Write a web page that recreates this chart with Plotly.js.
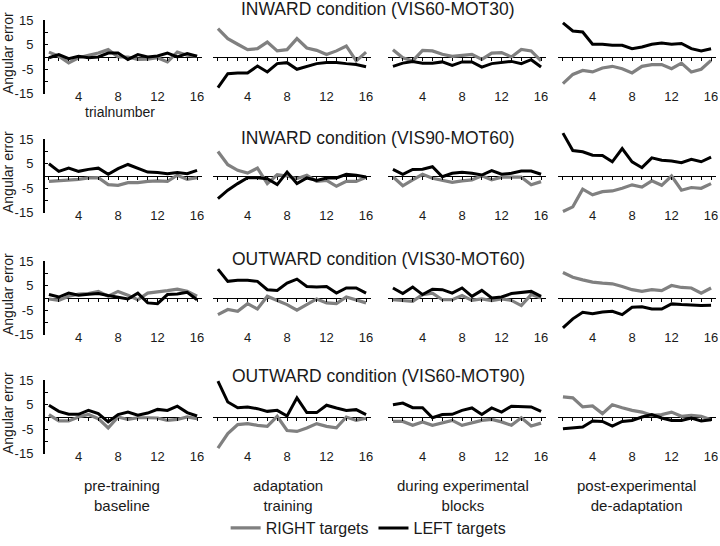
<!DOCTYPE html>
<html><head><meta charset="utf-8">
<script src="https://cdn.plot.ly/plotly-3.0.1.min.js"></script>
<style>html,body{margin:0;padding:0;background:#fff}#chart{width:720px;height:546px}</style>
</head><body><div id="chart"></div>
<script>
const trials = [1,2,3,4,5,6,7,8,9,10,11,12,13,14,15,16];
const phases = ["pre-training<br>baseline","adaptation<br>training","during experimental<br>blocks","post-experimental<br>de-adaptation"];
const conditions = ["INWARD condition (VIS60-MOT30)","INWARD condition (VIS90-MOT60)","OUTWARD condition (VIS30-MOT60)","OUTWARD condition (VIS60-MOT90)"];
const seriesNames = ["RIGHT targets","LEFT targets"];
const yTickVals = [15,10,5,0,-5,-10,-15];
const yTickText = ["15","","5","","-5","","-15"];
const xTicks = [4,8,12,16];

// each: [baseline, adaptation, during, post]
const inward6030_right = [
  [2,0.3,-2.4,-0.3,0.7,1.6,3,0,0,-1,-0.9,-0.3,-2,2,0.7,0.3],
  [11.6,7.5,5.2,3,3.4,6.1,2.5,3,7.5,3.7,2.7,1,2.5,4.5,-1.6,2],
  [3,-0.3,-1.6,2.7,2.5,1.1,0.3,0.7,1.1,-1,1.6,1.8,0,3.1,2.5,-1.6],
  [-10.9,-7.1,-5.5,-6.1,-4.5,-3.8,-4.8,-6.5,-3.8,-3.1,-3.1,-4.8,-2.5,-6.1,-5,-1.4]
];
const inward6030_left = [
  [-0.3,1,-0.7,0.3,-0.3,0,1.6,1.6,-1,1,0,0.4,1.6,0,1.4,0.3],
  [-12.5,-6.8,-6.5,-6.5,-3.7,-6.1,-2.7,-2.3,-5,-3.7,-2.7,-2.2,-2.2,-2.7,-3.1,-4],
  [-3.8,-2.5,-1.8,-2.5,-2.5,-2,-3.4,-2,-2,-4.1,-2.7,-2.3,-1.8,-2.7,-1.1,-4.1],
  [13.9,10.6,10.2,5.2,5.2,4.8,4.8,3.4,4.1,5.2,5.7,5.2,5.5,3.4,2.5,3.4]
];
const inward9060_right = [
  [-2.2,-2,-1.8,-1.4,-0.8,-0.7,-3.5,-3.8,-2.7,-2.7,-2.2,-2,-2.2,0.3,-1.4,-0.7],
  [10,4.6,2.3,1.2,3.2,-3.1,0.5,0,-1.1,0.3,-2.2,-1.8,-4.2,-2.2,-2.2,-0.5],
  [-0.3,-4,-1.6,0.7,-0.9,-1.6,-2.6,-2,-1.6,0.1,-1.6,-0.5,-0.5,-0.5,-3.6,-2.3],
  [-14.5,-12.6,-5.4,-7.7,-6.4,-6.1,-5,-3.6,-4.5,-2,-3.8,0,-5.8,-4.7,-5,-3.1]
];
const inward9060_left = [
  [5,1.9,3.2,1.9,2.7,3.2,0.7,3,4.7,3,1.6,1.4,0.9,1.4,0.9,2.3],
  [-9.2,-5.8,-3.1,-0.7,-0.7,-1.1,-3.5,1.6,-3.1,-0.8,-1.8,-0.8,-0.8,0.7,0.3,-0.4],
  [2.7,0.7,2.7,2.8,3.8,-0.3,1.1,1.5,1.1,0.4,2.2,0.7,1.1,2,2,0.7],
  [17.5,10.4,9.9,8.5,8.4,5.8,11.2,5.8,3.4,7.4,6.4,6.1,5.4,6.8,5.8,7.7]
];
const outward3060_right = [
  [-0.4,-1,0.7,1.6,1.8,2.7,0.7,2.7,1.1,-0.7,2,2.4,3,3.6,2.7,0.7],
  [-6.8,-4.7,-5.4,-2.3,-4.5,0.7,-1,-2.7,-5,-2.7,-0.4,-2,-2.3,0.4,-0.7,-2],
  [-0.7,-1,-1.4,1.4,2,-0.7,-0.7,1,-1,-0.4,-1.1,-0.4,-1,-3.1,1.4,0],
  [10.4,8.5,7.4,6.5,6.1,5.8,4.7,3.4,2.7,3.4,3,5.1,4.3,4.1,2,4.1]
];
const outward3060_left = [
  [1.4,0.4,2,1.1,1.5,1.8,1,0.4,-0.4,2,-2,-2.3,1.4,1.6,2.3,-0.7],
  [11.8,6.8,7.2,7.2,6.8,3.4,3.1,6.1,7.7,4.7,4.5,4.7,2,4.1,4.1,2],
  [4.1,1.8,4.5,1.4,3.6,3.4,2,4.1,0.7,3.1,0,0.4,1.8,2.3,2.7,0.7],
  [-12.2,-8.5,-5.8,-6.4,-5.7,-5.4,-6.8,-3.8,-3.6,-4.5,-4.5,-2.4,-2.7,-3,-3.1,-3]
];
const outward6090_right = [
  [1,-1.6,-1.6,0,1,-0.7,-4.5,0,-1,-0.3,-0.3,-0.4,-1.4,-1,0,-0.7],
  [-12.7,-6.8,-3.1,-2.7,-3.4,-3.8,0.3,-5.5,-5.9,-4.5,-2.7,-3.8,-4.4,0,-1.4,-0.5],
  [-1.8,-1.8,-3.4,-2,-3.4,-2.5,-1.4,-3.4,-2.3,-1.4,-1,-2,-3.4,-0.3,-3.7,-2.5],
  [8.2,7.8,4.1,4.5,1.4,5,3.8,2.7,2,0.7,1,2,0.3,0.7,0.3,-1.1]
];
const outward6090_left = [
  [4.8,2.3,1.1,1.1,2.7,1.4,-2,1,2,0.7,1.6,3.1,2.7,4.4,1.8,0.4],
  [14.6,6.1,3.8,4.1,3.4,2.3,2.7,0.4,7.8,1.8,1.8,4.8,3.7,2.7,3,1],
  [5,5.7,3.8,3.8,-0.3,1,1.1,2.7,3.7,1,3.7,2,4.4,4.1,4.1,2.3],
  [-4.8,-4.4,-4.1,-1.6,-1.8,-3.7,-1.8,-1.4,0,1,-0.4,-1.4,-1.4,-0.4,-1.6,-1.1]
];

const rightRows = [inward6030_right, inward9060_right, outward3060_right, outward6090_right];
const leftRows = [inward6030_left, inward9060_left, outward3060_left, outward6090_left];

const W = 720, H = 546;
const FONT = '"Liberation Sans", Arial, sans-serif';
const TXT = '#1a1a1a';
const colPx = [[44,202],[213,371],[388,546],[558,716]];
const zeroPx = [57,176,298,417];
const titlePx = [9,138,259,376];
const pxPerUnit = 2.45;
const yr = 20;
const px2py = p => 1 - p / H;
const axId = (l, n) => n === 1 ? l : l + n;
const axKey = (l, n) => l + 'axis' + (n === 1 ? '' : n);

const traces = [];
const layout = {
  width: W, height: H, margin: {l:0,r:0,t:0,b:0},
  paper_bgcolor: '#fff', plot_bgcolor: 'rgba(0,0,0,0)',
  font: {family: FONT, color: TXT, size: 13},
  showlegend: true,
  legend: {orientation: 'h', x: 0.512, xanchor: 'center', y: px2py(528), yanchor: 'middle',
           font: {size: 16, family: FONT, color: TXT}, bgcolor: 'rgba(0,0,0,0)', itemwidth: 30},
  annotations: []
};

for (let r = 0; r < 4; r++) {
  const z = zeroPx[r];
  const dom = [px2py(z + yr*pxPerUnit), px2py(z - yr*pxPerUnit)];
  for (let c = 0; c < 4; c++) {
    const n = r*4 + c + 1;
    const xid = axId('x', n), yid = axId('y', n);
    const xd = [colPx[c][0]/W, colPx[c][1]/W];
    const series = [rightRows[r][c], leftRows[r][c]];
    const colors = ['#808080', '#000000'];
    const widths = [3.2, 3];
    for (let s = 0; s < 2; s++) {
      traces.push({x: trials, y: series[s], type: 'scatter', mode: 'lines',
        xaxis: xid, yaxis: yid, name: seriesNames[s], legendgroup: seriesNames[s],
        showlegend: n === 1, line: {color: colors[s], width: widths[s]}, hoverinfo: 'skip'});
    }
    // label axis (tick labels below the panel)
    layout[axKey('x', n)] = {
      domain: xd, range: [0.5, 16.5], anchor: 'free', position: px2py(z + 30),
      tickmode: 'array', tickvals: xTicks, ticks: '', showline: false, showgrid: false, zeroline: false,
      tickfont: {size: 13, family: FONT, color: TXT}, fixedrange: true
    };
    // tick marks along the zero line
    const tn = n + 16;
    layout[axKey('x', tn)] = {
      domain: xd, overlaying: xid, range: [0.5, 16.5], anchor: 'free', position: px2py(z),
      tickmode: 'linear', tick0: 1, dtick: 1, ticks: 'outside', ticklen: 3, tickwidth: 1, tickcolor: '#000',
      showticklabels: false, showline: false, showgrid: false, zeroline: false, fixedrange: true
    };
    traces.push({x: [], y: [], type: 'scatter', mode: 'lines', xaxis: axId('x', tn), yaxis: yid,
      showlegend: false, hoverinfo: 'skip'});
    layout[axKey('y', n)] = {
      domain: dom, range: [-yr, yr], anchor: xid, showline: false, showgrid: false,
      zeroline: true, zerolinecolor: '#000', zerolinewidth: 1,
      showticklabels: false, ticks: '', fixedrange: true
    };
  }
  // visible y axis (from -15 to 15) at the left of the first panel
  const yn = 17 + r;
  layout[axKey('y', yn)] = {
    domain: [px2py(z + 15*pxPerUnit), px2py(z - 15*pxPerUnit)], range: [-15, 15],
    anchor: 'free', position: colPx[0][0]/W, side: 'left',
    showline: true, linecolor: '#000', linewidth: 2, showgrid: false, zeroline: false,
    tickmode: 'array', tickvals: yTickVals, ticktext: yTickText, ticks: 'inside', ticklen: 3, tickwidth: 1, tickcolor: '#000',
    ticklabelstandoff: 7, tickfont: {size: 13, family: FONT, color: TXT}, fixedrange: true
  };
  traces.push({x: [], y: [], type: 'scatter', mode: 'lines', xaxis: axId('x', r*4 + 1), yaxis: axId('y', yn),
    showlegend: false, hoverinfo: 'skip'});
  layout.annotations.push({text: 'Angular error', xref: 'paper', yref: 'paper', x: 8/W, y: px2py(z - 4),
    xanchor: 'center', yanchor: 'middle', textangle: -90, showarrow: false,
    font: {size: 14, family: FONT, color: TXT}});
  layout.annotations.push({text: conditions[r], xref: 'paper', yref: 'paper', x: 378/W, y: px2py(titlePx[r]),
    xanchor: 'center', yanchor: 'middle', showarrow: false, font: {size: 17.5, family: FONT, color: TXT}});
}
layout.annotations.push({text: 'trialnumber', xref: 'paper', yref: 'paper', x: 120/W, y: px2py(112),
  xanchor: 'center', yanchor: 'middle', showarrow: false, font: {size: 14, family: FONT, color: TXT}});
const phaseCenters = [122, 288, 463, 636];
for (let c = 0; c < 4; c++) {
  layout.annotations.push({text: phases[c], xref: 'paper', yref: 'paper', x: phaseCenters[c]/W, y: px2py(495),
    xanchor: 'center', yanchor: 'middle', showarrow: false, font: {size: 15, family: FONT, color: TXT}});
}
Plotly.newPlot('chart', traces, layout, {staticPlot: true, displayModeBar: false});
</script></body></html>
